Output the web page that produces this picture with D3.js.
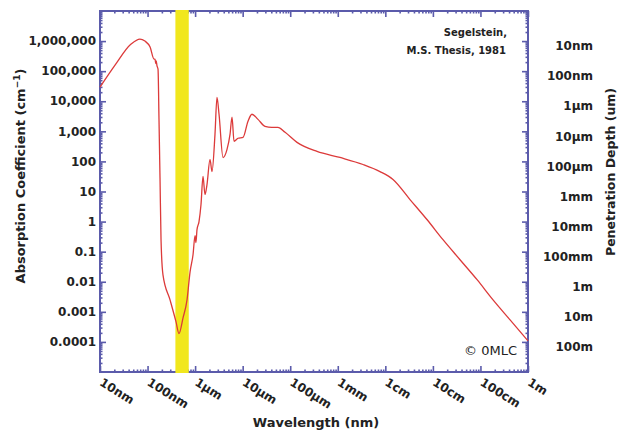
<!DOCTYPE html>
<html>
<head>
<meta charset="utf-8">
<script src="https://cdn.jsdelivr.net/npm/d3@7"></script>
<style>
  html, body { margin: 0; padding: 0; background: #ffffff; }
  svg { display: block; }
  text { font-family: "DejaVu Sans", sans-serif; }
</style>
</head>
<body>
<svg id="chart" width="621" height="431"></svg>
<script>
// ---- Data ----
// Wavelength in nm, absorption coefficient in cm^-1 (Segelstein water spectrum)
const wavelengthNm = [
  10, 20.7, 45, 69, 88, 113, 137, 144, 148, 152, 158, 166, 174, 183, 192, 211,
  297, 396, 458, 557, 676, 782, 904, 996, 1040, 1096, 1208, 1330, 1466, 1614,
  1778, 2056, 2265, 2618, 2884, 3184, 3864, 4689, 5420, 5970, 6580, 7980,
  10200, 12900, 15700, 21000, 29500, 41000, 55000, 78000, 139000, 366000,
  1110000, 3400000, 7700000, 14500000, 33000000, 75000000, 163000000,
  372000000, 849000000, 1840000000, 4200000000, 10000000000
];
const absorption = [
  29300, 158000, 794000, 1170000, 1000000, 631000, 251000, 251000, 180000, 220000,
  150000, 117000, 2500, 25, 0.25, 0.017,
  0.0025, 0.00047, 0.00019, 0.00063, 0.0025, 0.021, 0.079, 0.34, 0.2, 0.54, 1.0, 3.7,
  31.6, 7.9, 17, 117, 46, 794, 13500, 3700, 135, 251, 794, 2950, 468, 589,
  631, 2140, 3700, 2500, 1470, 1350, 1350, 925, 430, 215,
  135, 79, 46, 25, 5.4, 1.17, 0.25,
  0.054, 0.0117, 0.0025, 0.00054, 0.000108
];

// Axis tick values and labels
const xTickValues = [1e1, 1e2, 1e3, 1e4, 1e5, 1e6, 1e7, 1e8, 1e9, 1e10];
const xTickLabels = ["10nm", "100nm", "1µm", "10µm", "100µm", "1mm", "1cm", "10cm", "100cm", "1m"];
const yTickValues = [1e6, 1e5, 1e4, 1e3, 1e2, 1e1, 1, 0.1, 0.01, 0.001, 0.0001];
const yTickLabels = ["1,000,000", "100,000", "10,000", "1,000", "100", "10", "1", "0.1", "0.01", "0.001", "0.0001"];
const depthLabels = ["10nm", "100nm", "1µm", "10µm", "100µm", "1mm", "10mm", "100mm", "1m", "10m", "100m"];

// Visible band (nm)
const visibleBand = [385, 735];

// ---- Layout ----
const svg = d3.select("#chart");
const L = 100, R = 528, T = 11, B = 372;
const axisColor = "#5b5bab";
const lineColor = "#dc3a3a";

const x = d3.scaleLog().domain([1e1, 1e10]).range([L, R]);
const y = d3.scaleLog().domain([1e-5, 1e7]).range([B, T]);

// minor tick values
const xMinor = [];
for (let e = 1; e < 10; e++) for (let m = 2; m <= 9; m++) xMinor.push(m * Math.pow(10, e));
const yMinor = [];
for (let e = -5; e < 7; e++) for (let m = 2; m <= 9; m++) yMinor.push(m * Math.pow(10, e));

function styleAxis(g) {
  g.select(".domain").remove();
  g.selectAll(".tick line").attr("stroke", axisColor).attr("stroke-width", 1.6);
}

// Major ticks (inward)
svg.append("g").attr("transform", `translate(${L},0)`)
  .call(d3.axisLeft(y).tickValues(yTickValues).tickSize(-6).tickFormat(""))
  .call(styleAxis);
svg.append("g").attr("transform", `translate(${R},0)`)
  .call(d3.axisRight(y).tickValues(yTickValues).tickSize(-6).tickFormat(""))
  .call(styleAxis);
svg.append("g").attr("transform", `translate(0,${B})`)
  .call(d3.axisBottom(x).tickValues(xTickValues).tickSize(-6).tickFormat(""))
  .call(styleAxis);
svg.append("g").attr("transform", `translate(0,${T})`)
  .call(d3.axisTop(x).tickValues(xTickValues).tickSize(-6).tickFormat(""))
  .call(styleAxis);

// Minor ticks
svg.append("g").attr("transform", `translate(${L},0)`)
  .call(d3.axisLeft(y).tickValues(yMinor).tickSize(-2.5).tickFormat(""))
  .call(styleAxis);
svg.append("g").attr("transform", `translate(${R},0)`)
  .call(d3.axisRight(y).tickValues(yMinor).tickSize(-2.5).tickFormat(""))
  .call(styleAxis);
svg.append("g").attr("transform", `translate(0,${B})`)
  .call(d3.axisBottom(x).tickValues(xMinor).tickSize(-2.5).tickFormat(""))
  .call(styleAxis);
svg.append("g").attr("transform", `translate(0,${T})`)
  .call(d3.axisTop(x).tickValues(xMinor).tickSize(-2.5).tickFormat(""))
  .call(styleAxis);

// Frame
svg.append("rect")
  .attr("x", L).attr("y", T).attr("width", R - L).attr("height", B - T)
  .attr("fill", "none").attr("stroke", axisColor).attr("stroke-width", 2);

// Visible band
svg.append("rect")
  .attr("x", x(visibleBand[0]))
  .attr("y", T - 1)
  .attr("width", x(visibleBand[1]) - x(visibleBand[0]))
  .attr("height", B - T + 2)
  .attr("fill", "#f1e71d");

// Curve
const pts = wavelengthNm.map((w, i) => [w, absorption[i]]);
svg.append("path")
  .datum(pts)
  .attr("fill", "none")
  .attr("stroke", lineColor)
  .attr("stroke-width", 1.3)
  .attr("stroke-linejoin", "round")
  .attr("d", d3.line().curve(d3.curveMonotoneX).x(d => x(d[0])).y(d => y(d[1])));

// Left tick labels
svg.append("g").selectAll("text")
  .data(yTickValues)
  .join("text")
  .attr("x", L - 4)
  .attr("y", d => y(d))
  .attr("dy", "0.35em")
  .attr("text-anchor", "end")
  .attr("font-size", 12)
  .attr("font-weight", "bold")
  .attr("fill", "#222")
  .text((d, i) => yTickLabels[i]);

// Right tick labels (penetration depth)
svg.append("g").selectAll("text")
  .data(yTickValues)
  .join("text")
  .attr("x", 593)
  .attr("y", d => y(d) + 5)
  .attr("dy", "0.35em")
  .attr("text-anchor", "end")
  .attr("font-size", 12)
  .attr("font-weight", "bold")
  .attr("fill", "#222")
  .text((d, i) => depthLabels[i]);

// Bottom tick labels (rotated)
svg.append("g").selectAll("text")
  .data(xTickValues)
  .join("text")
  .attr("transform", d => `translate(${x(d) + 1},${B + 9}) rotate(32)`)
  .attr("dy", "0.35em")
  .attr("text-anchor", "start")
  .attr("font-size", 12)
  .attr("font-weight", "bold")
  .attr("fill", "#222")
  .text((d, i) => xTickLabels[i]);

// Axis titles
svg.append("text")
  .attr("x", 316).attr("y", 427)
  .attr("text-anchor", "middle")
  .attr("font-size", 13).attr("font-weight", "bold").attr("fill", "#222")
  .text("Wavelength (nm)");

const yt = svg.append("text")
  .attr("transform", "translate(25,176) rotate(-90)")
  .attr("text-anchor", "middle")
  .attr("font-size", 13).attr("font-weight", "bold").attr("fill", "#222");
yt.append("tspan").text("Absorption Coefficient (cm");
yt.append("tspan").attr("font-size", 9).attr("dy", -5).text("−1");
yt.append("tspan").attr("dy", 5).text(")");

svg.append("text")
  .attr("transform", "translate(615,172) rotate(-90)")
  .attr("text-anchor", "middle")
  .attr("font-size", 12.5).attr("font-weight", "bold").attr("fill", "#222")
  .text("Penetration Depth (um)");

// Annotations
svg.append("text")
  .attr("x", 507).attr("y", 36)
  .attr("text-anchor", "end")
  .attr("font-size", 10).attr("font-weight", "bold").attr("fill", "#222")
  .text("Segelstein,");
svg.append("text")
  .attr("x", 506).attr("y", 54)
  .attr("text-anchor", "end")
  .attr("font-size", 10).attr("font-weight", "bold").attr("fill", "#222")
  .text("M.S. Thesis, 1981");
svg.append("text")
  .attr("x", 517).attr("y", 355)
  .attr("text-anchor", "end")
  .attr("font-size", 13).attr("fill", "#222")
  .text("© 0MLC");
</script>
</body>
</html>
